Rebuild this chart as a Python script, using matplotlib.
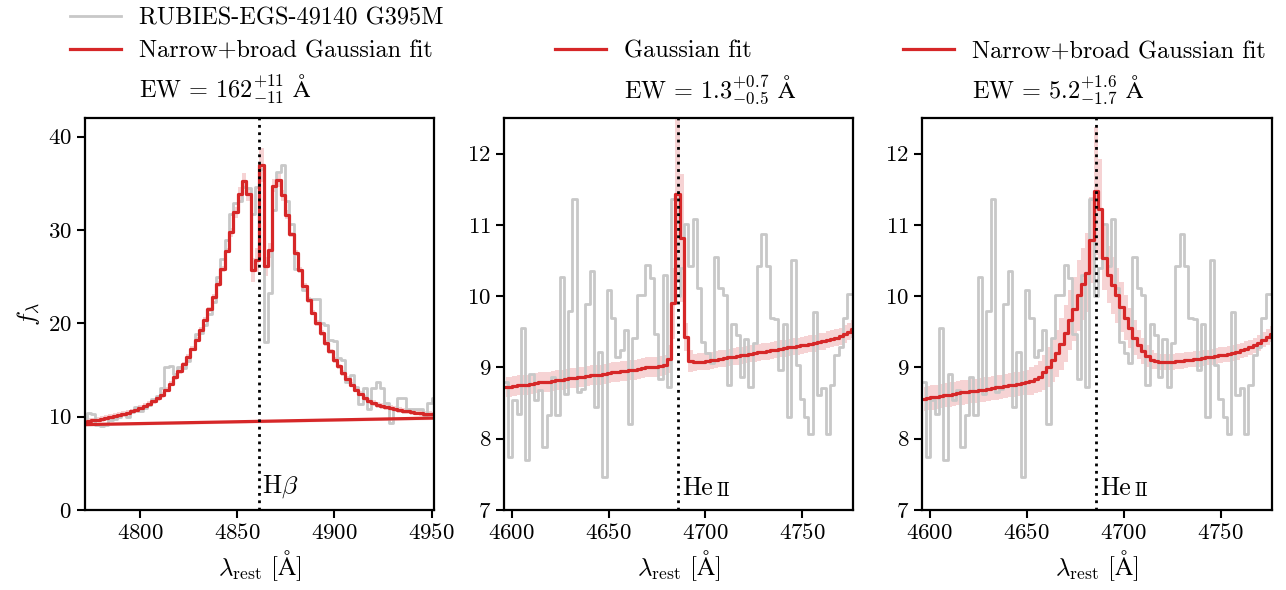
import numpy as np
import matplotlib.pyplot as plt
from matplotlib.lines import Line2D
import matplotlib.transforms as mtransforms

plt.rcParams.update({
    'font.family': ['cmr10', 'DejaVu Serif'],
    'mathtext.fontset': 'cm',
    'axes.formatter.use_mathtext': True,
    'axes.linewidth': 1.6,
    'xtick.major.width': 1.5,
    'ytick.major.width': 1.5,
    'xtick.major.size': 6,
    'ytick.major.size': 6,
    'xtick.labelsize': 16.5,
    'ytick.labelsize': 16.5,
})

# --- H-beta window (rest-frame pixel grid) ---
hb_wave0 = 4771.47
hb_pix = 2.218
hb_flux = [9.9, 10.4, 10.3, 9.1, 9.0, 9.1, 9.6, 9.8, 10.0, 10.3,
           10.0, 10.5, 11.0, 10.6, 10.9, 11.2, 11.9, 12.2, 13.1, 15.3,
           15.4, 14.6, 15.3, 15.2, 16.0, 17.2, 18.9, 19.0, 19.8, 21.0,
           22.3, 25.0, 26.9, 28.9, 31.7, 32.9, 33.1, 34.6, 34.5, 31.7,
           34.6, 36.5, 17.95, 23.2, 32.1, 36.2, 37.0, 33.15, 30.66, 25.87,
           25.69, 23.56, 22.57, 22.57, 22.57, 20.0, 19.8, 18.23, 18.06, 16.28,
           16.1, 13.69, 14.5, 13.19, 11.31, 13.08, 10.85, 13.08, 13.69, 13.08,
           11.49, 9.36, 10.85, 12.02, 12.02, 10.78, 10.85, 10.85, 10.85, 10.2,
           11.49, 12.0]
hb_model = [9.45, 9.52, 9.6, 9.68, 9.76, 9.85, 9.95, 10.05, 10.16, 10.28,
            10.41, 10.56, 10.73, 10.92, 11.13, 11.37, 11.64, 11.95, 12.3, 12.9,
            13.55, 14.2, 14.9, 15.6, 16.4, 17.3, 18.25, 19.3, 20.4, 21.5,
            22.8, 24.2, 25.85, 27.8, 29.75, 31.9, 33.86, 35.28, 33.86, 25.7,
            26.76, 36.95, 26.1, 27.82, 34.75, 35.35, 33.7, 31.66, 29.53, 27.54,
            25.69, 23.99, 22.5, 21.15, 20.01, 18.94, 17.88, 16.99, 16.1, 15.39,
            14.68, 14.04, 13.44, 12.9, 12.48, 12.02, 11.66, 11.45, 11.28, 11.13,
            11.0, 10.9, 10.8, 10.71, 10.63, 10.56, 10.49, 10.43, 10.38, 10.33,
            10.29, 10.25]
hb_model_err = [0.3] * 34 + [0.5, 0.6, 0.7, 0.8, 0.8, 1.3, 1.3, 1.8, 1.0, 0.8,
                             0.7, 0.7, 0.6, 0.5] + [0.3] * 34
hb_cont_wave = [4771.7, 4951.2]
hb_cont = [9.15, 9.85]

# --- He II window ---
he_wave0 = 4597.04
he_pix = 2.215
he_flux = [8.79, 7.75, 8.54, 8.35, 9.55, 7.70, 8.91, 8.54, 8.69, 7.88,
           8.33, 8.87, 8.33, 10.27, 8.63, 9.79, 11.36, 8.65, 8.70, 9.89,
           10.35, 8.44, 9.21, 7.46, 10.08, 9.70, 9.15, 9.25, 9.52, 8.21,
           9.42, 10.01, 10.02, 10.44, 10.25, 9.47, 8.84, 10.30, 8.72, 11.36,
           10.0, 10.4, 11.01, 10.43, 11.08, 10.11, 9.36, 9.2, 9.06, 10.55,
           10.11, 10.01, 8.75, 9.61, 9.46, 8.86, 9.40, 8.72, 9.35, 10.43,
           10.87, 10.43, 9.70, 9.68, 8.97, 9.61, 8.31, 10.51, 9.03, 8.56,
           8.31, 8.06, 9.78, 8.62, 8.71, 8.06, 8.76, 9.17, 9.29, 9.69,
           10.03, 10.03]
he_gauss = [8.72, 8.73, 8.74, 8.75, 8.75, 8.76, 8.77, 8.78, 8.79, 8.80,
            8.80, 8.81, 8.82, 8.83, 8.84, 8.85, 8.85, 8.86, 8.87, 8.88,
            8.89, 8.90, 8.90, 8.91, 8.92, 8.93, 8.94, 8.95, 8.95, 8.96,
            8.97, 8.98, 8.99, 9.00, 9.00, 9.01, 9.02, 9.03, 9.12, 9.90,
            11.44, 10.82, 9.43, 9.09, 9.07, 9.08, 9.08, 9.09, 9.10, 9.11,
            9.12, 9.13, 9.14, 9.15, 9.16, 9.17, 9.18, 9.19, 9.20, 9.21,
            9.22, 9.23, 9.24, 9.25, 9.26, 9.27, 9.28, 9.29, 9.30, 9.31,
            9.32, 9.33, 9.34, 9.36, 9.37, 9.39, 9.40, 9.42, 9.44, 9.47,
            9.50, 9.54]
he_gauss_err = [0.14] * 38 + [0.2, 0.5, 1.2, 0.9, 0.2, 0.15] + [0.12] * 38
he_broad = [8.56, 8.57, 8.58, 8.59, 8.60, 8.61, 8.62, 8.63, 8.64, 8.65,
            8.66, 8.67, 8.67, 8.68, 8.69, 8.70, 8.71, 8.72, 8.73, 8.74,
            8.75, 8.76, 8.77, 8.78, 8.79, 8.81, 8.84, 8.87, 8.93, 9.00,
            9.10, 9.20, 9.33, 9.48, 9.66, 9.82, 10.01, 10.17, 10.33, 10.79,
            11.48, 11.22, 10.53, 10.30, 10.15, 10.01, 9.85, 9.70, 9.55, 9.42,
            9.32, 9.23, 9.16, 9.11, 9.09, 9.08, 9.08, 9.08, 9.08, 9.09,
            9.09, 9.10, 9.11, 9.12, 9.12, 9.13, 9.14, 9.15, 9.16, 9.17,
            9.18, 9.19, 9.20, 9.22, 9.24, 9.26, 9.28, 9.31, 9.34, 9.39,
            9.43, 9.47]
he_broad_err = ([0.17] * 25
                + [0.2, 0.2, 0.22, 0.25, 0.28, 0.3, 0.33, 0.36, 0.4, 0.42,
                   0.45, 0.5, 0.5, 0.55, 0.6, 0.9, 0.7, 0.45, 0.4, 0.4,
                   0.38, 0.35, 0.32, 0.28, 0.25, 0.2, 0.18, 0.15, 0.13]
                + [0.11] * 28)

hb_line = 4861.33
he_line = 4685.7

red = '#d62728'
grey = '#c8c8c8'

hb_wave = hb_wave0 + hb_pix * np.arange(len(hb_flux))
he_wave = he_wave0 + he_pix * np.arange(len(he_flux))

fig = plt.figure(figsize=(12.86, 5.9), dpi=100)
ax1 = fig.add_axes([0.0661, 0.1356, 0.2714, 0.6644])
ax2 = fig.add_axes([0.3921, 0.1356, 0.2714, 0.6644])
ax3 = fig.add_axes([0.7172, 0.1356, 0.2717, 0.6644])


def draw_panel(ax, wave, flux, model, err):
    d, = ax.step(wave, flux, where='mid', color=grey, lw=2)
    lo = np.array(model) - np.array(err)
    hi = np.array(model) + np.array(err)
    ax.fill_between(wave, lo, hi, step='mid', color=red, alpha=0.2, lw=0)
    m, = ax.step(wave, model, where='mid', color=red, lw=2.3)
    return d, m


# panel 1: H beta
d1, m1 = draw_panel(ax1, hb_wave, hb_flux, hb_model, hb_model_err)
ax1.fill_between(hb_cont_wave, np.array(hb_cont) - 0.15, np.array(hb_cont) + 0.15,
                 color=red, alpha=0.2, lw=0)
ax1.plot(hb_cont_wave, hb_cont, color=red, lw=2.3)
ax1.set_xlim(4771.7, 4951.2)
ax1.set_ylim(0, 42)
ax1.set_xticks([4800, 4850, 4900, 4950])
ax1.set_yticks([0, 10, 20, 30, 40])
ax1.set_ylabel(r'$f_\lambda$', fontsize=18)

# panel 2: He II single gaussian
d2, m2 = draw_panel(ax2, he_wave, he_flux, he_gauss, he_gauss_err)
# panel 3: He II narrow+broad
d3, m3 = draw_panel(ax3, he_wave, he_flux, he_broad, he_broad_err)

for ax in (ax2, ax3):
    ax.set_xlim(4596.2, 4776.3)
    ax.set_ylim(7, 12.5)
    ax.set_xticks([4600, 4650, 4700, 4750])
    ax.set_yticks([7, 8, 9, 10, 11, 12])

for ax, lw in ((ax1, hb_line), (ax2, he_line), (ax3, he_line)):
    ax.axvline(lw, color='k', ls=':', lw=2)
    ax.set_xlabel(r'$\lambda_{\rm rest}$ [$\mathrm{\AA}$]', fontsize=18)
    ax.tick_params(direction='out')

trans1 = mtransforms.blended_transform_factory(ax1.transData, ax1.transAxes)
ax1.text(hb_line + 1.2, 0.025, r'H$\beta$', transform=trans1, fontsize=18.5,
         ha='left', va='bottom')
for ax in (ax2, ax3):
    tr = mtransforms.blended_transform_factory(ax.transData, ax.transAxes)
    ax.text(he_line + 2.2, 0.025, 'He', transform=tr, fontsize=18.5,
            ha='left', va='bottom')
    ax.annotate('II', xy=(he_line + 2.2, 0.025), xycoords=tr,
                xytext=(25, 0), textcoords='offset points', fontsize=13.5,
                ha='left', va='bottom')

blank = Line2D([], [], color='none')
leg_kw = dict(loc='lower left', frameon=False, fontsize=17.5, handlelength=2.1,
              handletextpad=0.75, labelspacing=0.45, borderpad=0, borderaxespad=0)
ax1.legend([d1, m1, blank],
           ['RUBIES-EGS-49140 G395M', 'Narrow+broad Gaussian fit',
            r'EW = $162^{+11}_{-11}$ $\mathrm{\AA}$'],
           bbox_to_anchor=(-0.043, 1.03), **leg_kw)
ax2.legend([m2, blank],
           ['Gaussian fit', r'EW = $1.3^{+0.7}_{-0.5}$ $\mathrm{\AA}$'],
           bbox_to_anchor=(0.145, 1.03), **leg_kw)
ax3.legend([m3, blank],
           ['Narrow+broad Gaussian fit', r'EW = $5.2^{+1.6}_{-1.7}$ $\mathrm{\AA}$'],
           bbox_to_anchor=(-0.055, 1.03), **leg_kw)

fig.savefig('out.png', dpi=100)
